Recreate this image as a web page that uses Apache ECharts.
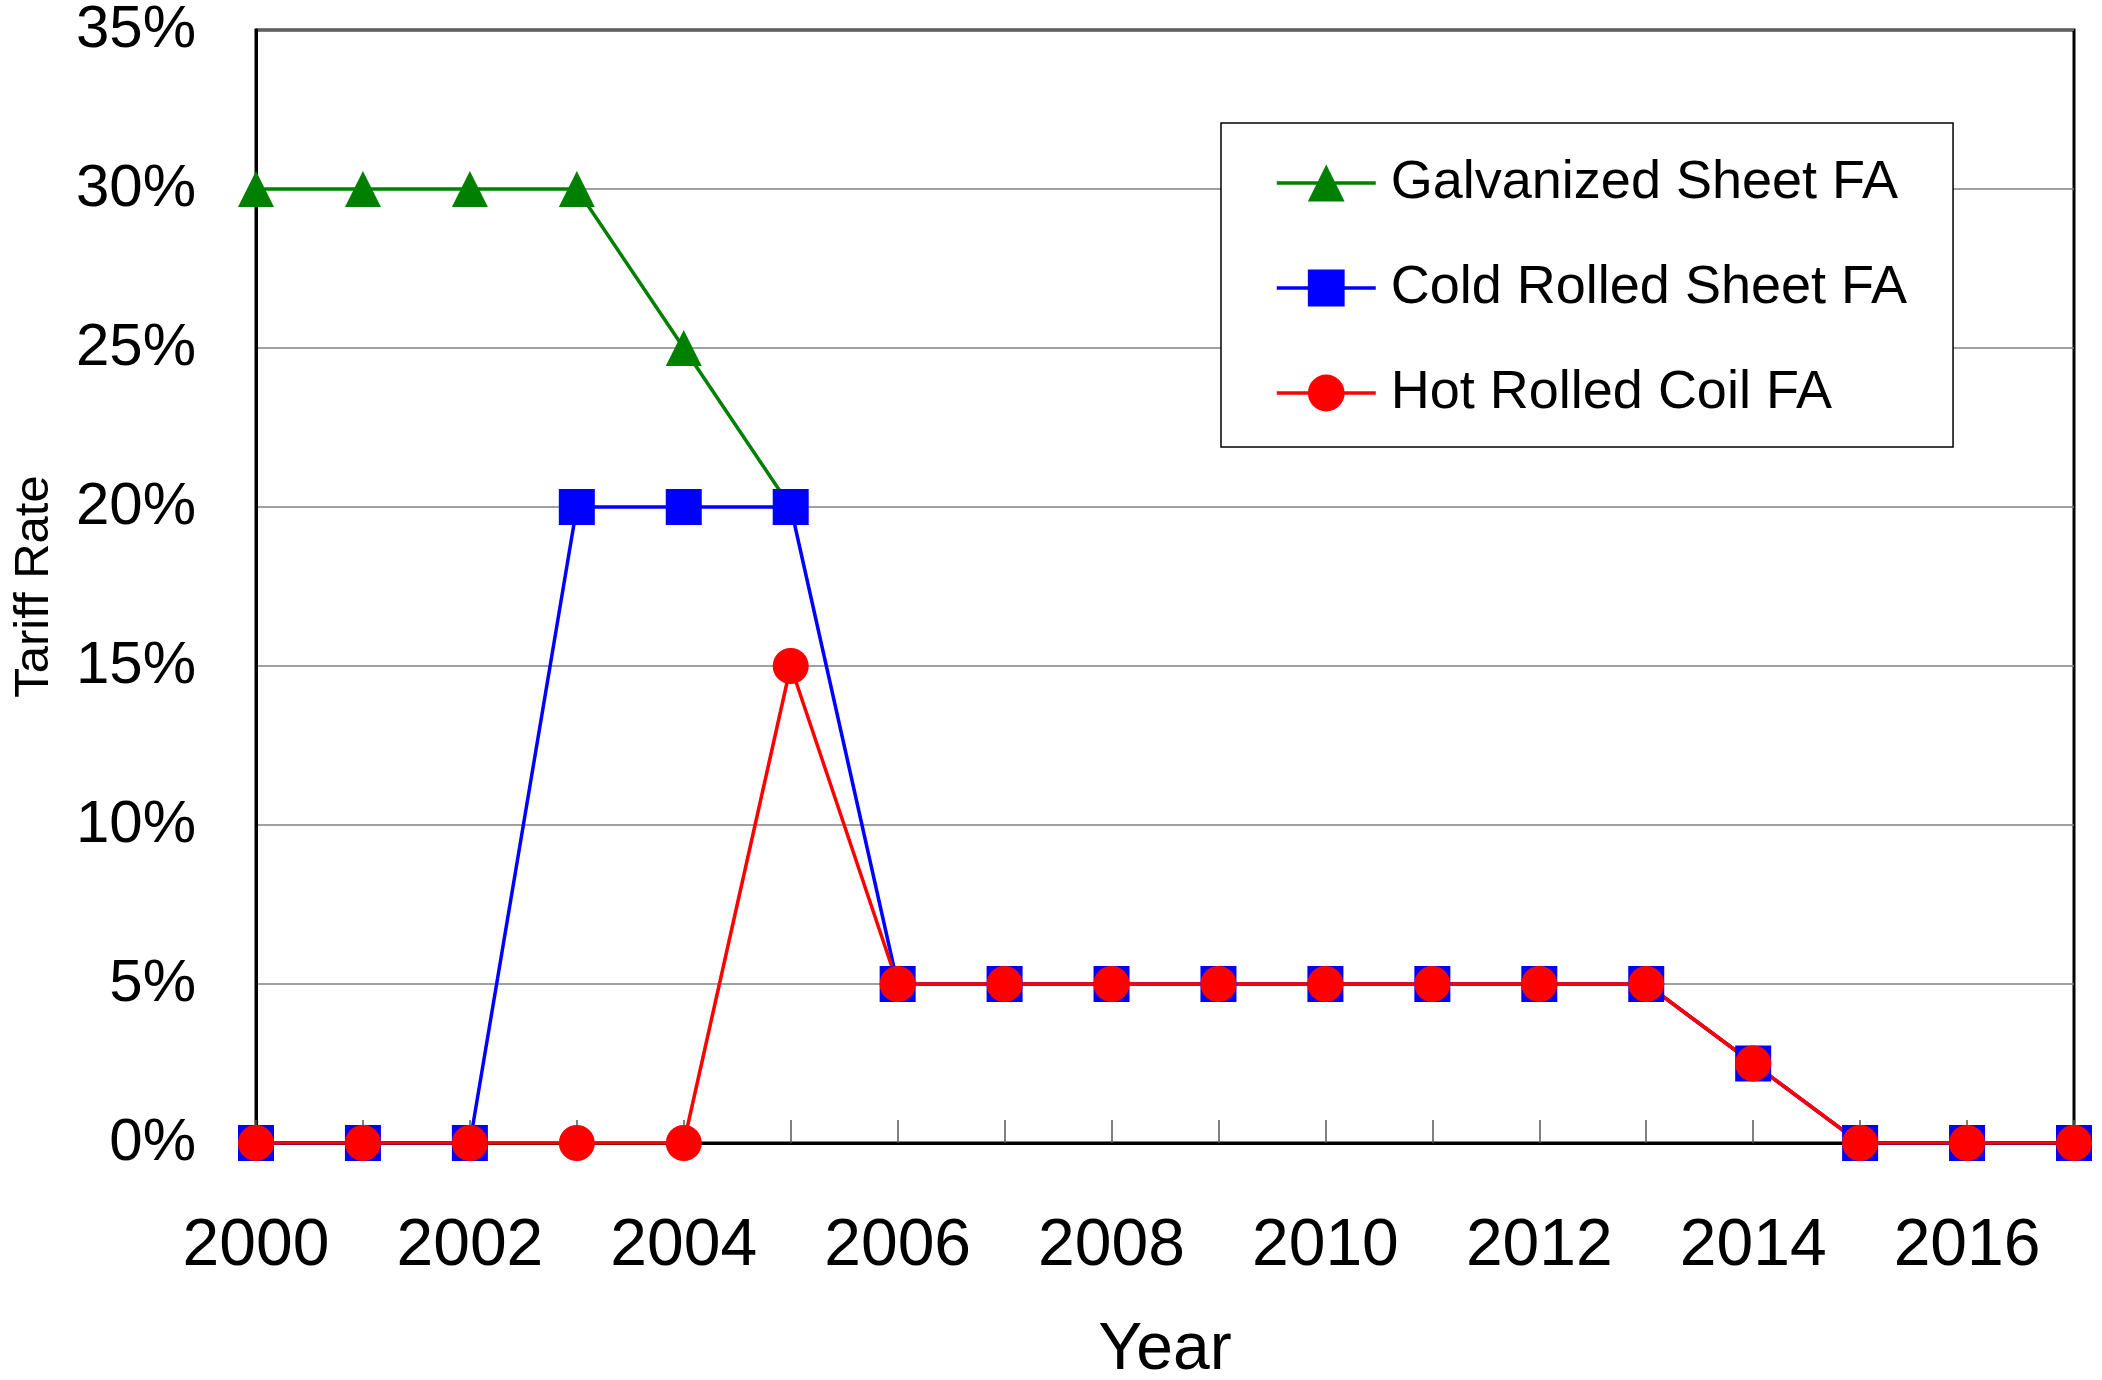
<!DOCTYPE html>
<html>
<head>
<meta charset="utf-8">
<title>Tariff Rate</title>
<script src="https://cdn.jsdelivr.net/npm/echarts@6/dist/echarts.min.js"></script>
<style>
  html, body { margin: 0; padding: 0; background: #fff; }
  #chart { width: 2102px; height: 1380px; }
</style>
</head>
<body>
<div id="chart"></div>
<script>
// chart data
const years = ['2000', '2001', '2002', '2003', '2004', '2005', '2006', '2007', '2008',
  '2009', '2010', '2011', '2012', '2013', '2014', '2015', '2016', '2017']
const galvanized = [30, 30, 30, 30, 25, 20]
const coldRolled = [0, 0, 0, 20, 20, 20, 5, 5, 5, 5, 5, 5, 5, 5, 2.5, 0, 0, 0]
const hotRolled = [0, 0, 0, 0, 0, 15, 5, 5, 5, 5, 5, 5, 5, 5, 2.5, 0, 0, 0]
const seriesNames = ['Galvanized Sheet FA', 'Cold Rolled Sheet FA', 'Hot Rolled Coil FA']

const font = 'Liberation Sans, Arial, sans-serif'

const chart = echarts.init(document.getElementById('chart'), null, { renderer: 'canvas' })

function lineSeries(name, data, color, symbol) {
  return {
    name: name,
    type: 'line',
    data: data,
    symbol: symbol,
    symbolSize: 36,
    showAllSymbol: true,
    animation: false,
    itemStyle: { color: color },
    lineStyle: { color: color, width: 3.5 }
  }
}

chart.setOption({
  backgroundColor: '#fff',
  textStyle: { fontFamily: font },
  grid: {
    left: 256,
    right: 28,
    top: 30,
    bottom: 237,
    outerBoundsMode: 'none',
    containLabel: false,
    show: true,
    borderColor: '#000',
    borderWidth: 3
  },
  legend: {
    orient: 'vertical',
    left: 1221,
    top: 123,
    padding: [33, 46, 27, 54],
    itemWidth: 99,
    itemHeight: 46,
    itemGap: 51,
    backgroundColor: '#fff',
    borderColor: '#000',
    borderWidth: 1.5,
    lineStyle: { width: 3.5 },
    data: seriesNames,
    textStyle: {
      fontFamily: font,
      fontSize: 54,
      color: '#000',
      padding: [0, 0, 0, 10]
    }
  },
  xAxis: {
    type: 'category',
    data: years,
    boundaryGap: false,
    name: 'Year',
    nameLocation: 'middle',
    nameGap: 175,
    nameTextStyle: { fontFamily: font, fontSize: 66, color: '#000' },
    axisLine: { lineStyle: { color: '#000', width: 3 } },
    axisTick: {
      inside: true,
      length: 23,
      interval: 0,
      lineStyle: { color: '#555', width: 1.5 }
    },
    axisLabel: {
      interval: 1,
      margin: 71,
      fontFamily: font,
      fontSize: 66,
      color: '#000'
    },
    splitLine: { show: false }
  },
  yAxis: {
    type: 'value',
    min: 0,
    max: 35,
    interval: 5,
    name: 'Tariff Rate',
    nameLocation: 'middle',
    nameGap: 197,
    nameTextStyle: { fontFamily: font, fontSize: 49, color: '#000' },
    axisLine: { show: true, lineStyle: { color: '#000', width: 3 } },
    axisTick: { show: false },
    axisLabel: {
      formatter: '{value}%',
      margin: 60,
      fontFamily: font,
      fontSize: 60,
      color: '#000'
    },
    splitLine: { lineStyle: { color: '#808080', width: 1.5 } }
  },
  series: [
    lineSeries(seriesNames[0], galvanized, '#008000', 'triangle'),
    lineSeries(seriesNames[1], coldRolled, '#0000ff', 'rect'),
    lineSeries(seriesNames[2], hotRolled, '#ff0000', 'circle')
  ]
})
</script>
</body>
</html>
